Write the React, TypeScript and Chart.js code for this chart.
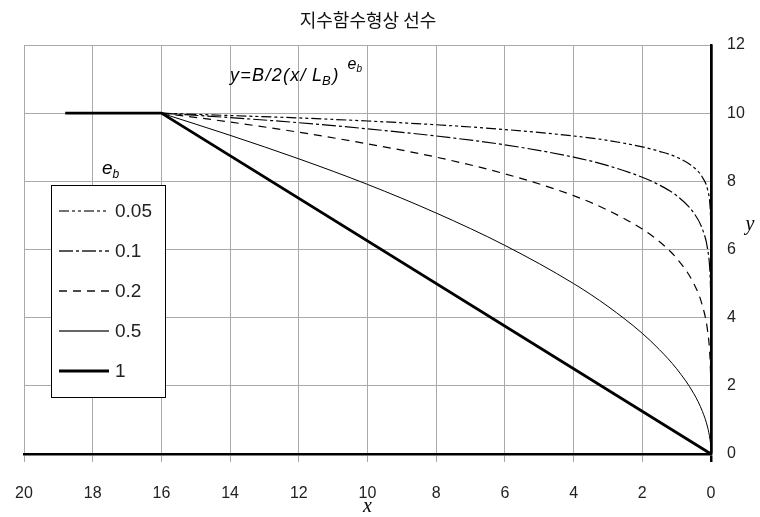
import { useEffect, useRef } from 'react';
import { Chart, registerables } from 'chart.js';

Chart.register(...registerables);

const TITLE = '지수함수형상 선수';
const X_TITLE = 'x';
const Y_TITLE = 'y';
const LEGEND_TITLE = 'e';
const LEGEND_TITLE_SUB = 'b';
const SERIES_LABELS = ['0.05', '0.1', '0.2', '0.5', '1'];

const X_MIN = 0;
const X_MAX = 20;
const X_STEP = 2;
const Y_MIN = 0;
const Y_MAX = 12;
const Y_STEP = 2;

const xCurve = [16, 14, 12, 10, 8, 6, 4, 3, 2, 1.5, 1, 0.5, 0.25, 0.1, 0.03, 0.01];
const y005 = [10, 9.93, 9.86, 9.77, 9.66, 9.52, 9.33, 9.2, 9.01, 8.88, 8.71, 8.41, 8.12, 7.76, 7.31, 6.91];
const y01 = [10, 9.87, 9.72, 9.54, 9.33, 9.07, 8.71, 8.46, 8.12, 7.89, 7.58, 7.07, 6.6, 6.02, 5.34, 4.78];
const y02 = [10, 9.74, 9.44, 9.1, 8.71, 8.22, 7.58, 7.15, 6.6, 6.23, 5.74, 5.0, 4.35, 3.62, 2.85, 2.29];
const x05 = [16, 14, 12, 10, 8, 6, 4, 3, 2, 1.5, 1, 0.5, 0.25, 0.1, 0.03, 0.01, 0];
const y05 = [10, 9.35, 8.66, 7.91, 7.07, 6.12, 5.0, 4.33, 3.54, 3.06, 2.5, 1.77, 1.25, 0.79, 0.43, 0.25, 0];
const x1 = [18.8, 16, 0];
const y1 = [10, 10, 0];

const SERIES_X = [xCurve, xCurve, xCurve, x05, x1];
const SERIES_Y = [y005, y01, y02, y05, y1];
const DASHES: number[][] = [[10, 3, 3, 3, 3, 3], [14, 3, 3, 3], [8, 6], [], []];
const WIDTHS = [1.2, 1.2, 1.2, 1, 2.8];
const LEGEND_COLORS = ['#444', '#222', '#111', '#333', '#000'];

const SANS = '"Liberation Sans", Arial, sans-serif';
const SERIF = '"Liberation Serif", "Times New Roman", serif';

type Run = { t: string; size: number; dy: number; italic?: boolean; gap?: number; ls?: number };

function drawRuns(ctx: CanvasRenderingContext2D, x: number, y: number, runs: Run[]) {
  let cx = x;
  ctx.textAlign = 'left';
  ctx.textBaseline = 'alphabetic';
  for (const r of runs) {
    cx += r.gap || 0;
    ctx.font = `${r.italic ? 'italic ' : ''}${r.size}px ${SANS}`;
    (ctx as any).letterSpacing = `${r.ls || 0}px`;
    ctx.fillText(r.t, cx, y + r.dy);
    cx += ctx.measureText(r.t).width;
  }
  (ctx as any).letterSpacing = '0px';
}

const overlayPlugin = {
  id: 'overlay',
  afterDraw(chart: any) {
    const ctx: CanvasRenderingContext2D = chart.ctx;
    const ca = chart.chartArea;
    ctx.save();
    ctx.fillStyle = '#000';

    // title
    ctx.font = `18px "Noto Sans CJK KR", sans-serif`;
    ctx.textAlign = 'center';
    ctx.textBaseline = 'middle';
    ctx.fillStyle = '#111';
    ctx.fillText(TITLE, 368, 20);
    ctx.fillStyle = '#000';

    // axis titles
    ctx.font = `italic 20px ${SERIF}`;
    ctx.fillText(X_TITLE, (ca.left + ca.right) / 2, 507);
    ctx.fillText(Y_TITLE, 750, 225);

    // formula
    drawRuns(ctx, 230, 81, [
      { t: 'y=B/2(x/', size: 18, dy: 0, italic: true, ls: 1.3 },
      { t: 'L', size: 18, dy: 0, italic: true, gap: 5 },
      { t: 'B', size: 13, dy: 4, italic: true },
      { t: ')', size: 18, dy: 0, italic: true, gap: 2 },
      { t: 'e', size: 16, dy: -12, italic: true, gap: 9 },
      { t: 'b', size: 10, dy: -9, italic: true, gap: 0 },
    ]);

    // legend title
    drawRuns(ctx, 102, 174, [
      { t: LEGEND_TITLE, size: 19, dy: 0, italic: true },
      { t: LEGEND_TITLE_SUB, size: 12, dy: 4, italic: true },
    ]);

    // legend box
    const bx = 51, by = 185, bw = 114, bh = 212;
    ctx.fillStyle = '#fff';
    ctx.fillRect(bx, by, bw, bh);
    ctx.strokeStyle = '#000';
    ctx.lineWidth = 1;
    ctx.setLineDash([]);
    ctx.strokeRect(bx + 0.5, by + 0.5, bw, bh);

    const rows = [211, 251, 291, 331, 371];
    SERIES_LABELS.forEach((lab, i) => {
      const yy = rows[i];
      ctx.strokeStyle = LEGEND_COLORS[i];
      ctx.lineWidth = WIDTHS[i] + 0.3;
      ctx.setLineDash(DASHES[i]);
      ctx.beginPath();
      ctx.moveTo(59, yy);
      ctx.lineTo(109, yy);
      ctx.stroke();
      ctx.setLineDash([]);
      ctx.fillStyle = '#222';
      ctx.font = `19px ${SANS}`;
      ctx.textAlign = 'left';
      ctx.textBaseline = 'middle';
      ctx.fillText(lab, 115, yy + 1);
    });
    ctx.restore();
  },
};

export default function App() {
  const ref = useRef<HTMLCanvasElement | null>(null);

  useEffect(() => {
    document.body.style.margin = '0';
    const canvas = ref.current;
    if (!canvas) return;
    const datasets = SERIES_LABELS.map((lab, i) => ({
      label: lab,
      data: SERIES_X[i].map((x, j) => ({ x, y: SERIES_Y[i][j] })),
      borderColor: '#000',
      backgroundColor: '#000',
      borderWidth: WIDTHS[i],
      borderDash: DASHES[i],
      pointRadius: 0,
      fill: false,
      cubicInterpolationMode: i === 4 ? 'default' : 'monotone',
      tension: 0,
    }));
    const chart = new Chart(canvas, {
      type: 'line',
      data: { datasets } as any,
      options: {
        animation: false,
        responsive: false,
        layout: { padding: { left: 24, top: 45, right: 0, bottom: 0 } },
        plugins: {
          legend: { display: false },
          tooltip: { enabled: false },
          title: { display: false },
        },
        scales: {
          x: {
            type: 'linear',
            reverse: true,
            min: X_MIN,
            max: X_MAX,
            afterFit: (s: any) => {
              s.height = 63;
              s.paddingLeft = 0;
              s.paddingRight = 0;
            },
            ticks: {
              stepSize: X_STEP,
              padding: 22,
              color: '#222',
              font: { family: SANS, size: 16 },
              maxRotation: 0,
            },
            grid: {
              color: (c: any) => (c.tick && c.tick.value === 0 ? '#000' : '#aaa'),
              lineWidth: (c: any) => (c.tick && c.tick.value === 0 ? 2.5 : 1),
              tickLength: 8,
            },
            border: { display: true, color: '#000', width: 2.5 },
          },
          y: {
            type: 'linear',
            position: 'right',
            min: Y_MIN,
            max: Y_MAX,
            afterFit: (s: any) => {
              s.width = 49;
            },
            ticks: {
              stepSize: Y_STEP,
              padding: 16,
              color: '#222',
              font: { family: SANS, size: 16 },
            },
            grid: {
              color: '#aaa',
              lineWidth: 1,
              drawTicks: false,
            },
            border: { display: true, color: '#000', width: 2.5 },
          },
        },
      } as any,
      plugins: [overlayPlugin],
    });
    return () => chart.destroy();
  }, []);

  return <canvas ref={ref} width={760} height={517} style={{ display: 'block' }} />;
}
